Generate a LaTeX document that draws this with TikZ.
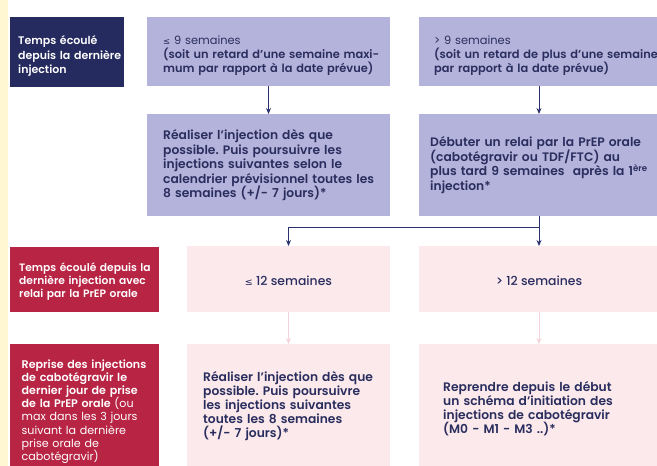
\documentclass[tikz,border=0pt]{standalone}
\usepackage{fontspec}
\setmainfont{Poppins}[BoldFont={Poppins SemiBold}]
\newfontfamily\popmed{Poppins Medium}
\newfontfamily\symf{DejaVu Sans}
\usetikzlibrary{arrows.meta}
\definecolor{navy}{HTML}{252A5F}
\definecolor{ink}{HTML}{2A2E5E}
\definecolor{lilac}{HTML}{B4B3DB}
\definecolor{blush}{HTML}{FBE9EC}
\definecolor{crimson}{HTML}{B82444}
\definecolor{cream}{HTML}{FFF7D2}
\definecolor{arrnavy}{HTML}{2B3170}
\definecolor{arrpink}{HTML}{F5D3DA}
\newcommand\leqsym[1][8.5]{{\symf\fontsize{#1}{10}\selectfont ≤}}
\newcommand\fsz[2]{\fontsize{#1}{#2}\selectfont\lineskiplimit=-100pt\lineskip=0pt\relax}
\tikzset{
  boxbase/.style={anchor=north west, inner sep=0pt, outer sep=0pt},
  navybox/.style={boxbase, fill=navy},
  redbox/.style={boxbase, fill=crimson},
  lilacbox/.style={boxbase, fill=lilac},
  blushbox/.style={boxbase, fill=blush},
  txt/.style={anchor=base west, inner sep=0pt, align=left, text width=260pt,
    text=ink, font=\fsz{12.3}{14.5}\bfseries},
  wtxt/.style={txt, text=white},
  ctxt/.style={anchor=base, inner sep=0pt, text=ink, font=\fsz{12.4}{14}\popmed},
  navyline/.style={draw=arrnavy, line width=0.9pt},
  navyarr/.style={navyline, -{Stealth[length=6pt,width=5pt]}},
  pinkarr/.style={draw=arrpink, line width=0.9pt, -{Stealth[length=6pt,width=5pt]}},
}
\begin{document}
\frenchspacing
\begin{tikzpicture}[x=1pt,y=-1pt]
\useasboundingbox (0,0) rectangle (657,466);
\clip (0,0) rectangle (657,466);
\fill[white] (0,0) rectangle (657,466);
\fill[cream] (0,0) rectangle (8,466);

% boxes
\node[navybox, minimum width=114, minimum height=70] (n1) at (10,17) {};
\node[lilacbox, minimum width=243, minimum height=69] (b1) at (147,17) {};
\node[lilacbox, minimum width=240, minimum height=69] (b2) at (419,17) {};
\node[lilacbox, minimum width=243, minimum height=102] (b3) at (147,114) {};
\node[lilacbox, minimum width=240, minimum height=102] (b4) at (419,114) {};
\node[redbox, minimum width=149, minimum height=65] (r1) at (10,247) {};
\node[blushbox, minimum width=203, minimum height=66] (b5) at (187,246) {};
\node[blushbox, minimum width=240, minimum height=66] (b6) at (419,246) {};
\node[redbox, minimum width=149, minimum height=130] (r2) at (10,344) {};
\node[blushbox, minimum width=203, minimum height=130] (b7) at (187,344) {};
\node[blushbox, minimum width=240, minimum height=130] (b8) at (419,344) {};

% texts
\node[wtxt, font=\fsz{11}{14.5}\bfseries] (tn1) at (18,44.5)
  {Temps écoulé\\depuis la dernière\\injection};
\node[txt, font=\fsz{11.4}{14}\bfseries] (tb1) at (163,44)
  {{\mdseries\leqsym\ 9 semaines}\\(soit un retard d’une semaine maxi-\\mum par rapport à la date prévue)};
\node[txt, font=\fsz{11.4}{14}\bfseries] (tb2) at (434,44)
  {{\mdseries > 9 semaines}\\(soit un retard de plus d’une semaine\\par rapport à la date prévue)};
\node[txt] (tb3) at (163,139.5)
  {Réaliser l’injection dès que\\possible. Puis poursuivre les\\injections suivantes selon le\\calendrier prévisionnel toutes les\\8 semaines (+/- 7 jours)*};
\node[txt] (tb4) at (430,146.5)
  {Débuter un relai par la PrEP orale\\(cabotégravir ou TDF/FTC) au\\plus tard 9 semaines\ \ après la 1\textsuperscript{ère}\\injection*};
\node[wtxt, font=\fsz{10.7}{13}\bfseries] (tr1) at (19,271)
  {Temps écoulé depuis la\\dernière injection avec\\relai par la PrEP orale};
\node[ctxt] (tb5) at (288.5,285.5) {{\leqsym[9.5]}\ 12 semaines};
\node[ctxt] (tb6) at (539,285.5) {> 12 semaines};
\node[wtxt, font=\fsz{11.1}{13.2}\bfseries] (tr2) at (21.5,368)
  {Reprise des injections\\de cabotégravir le\\dernier jour de prise\\de la PrEP orale {\mdseries(ou\\max dans les 3 jours\\suivant la dernière\\prise orale de\\cabotégravir)}};
\node[txt, font=\fsz{12.3}{14.2}\bfseries] (tb7) at (203,381)
  {Réaliser l’injection dès que\\possible. Puis poursuivre\\les injections suivantes\\toutes les 8 semaines\\(+/- 7 jours)*};
\node[txt, font=\fsz{12.3}{14.2}\bfseries] (tb8) at (443,391)
  {Reprendre depuis le début\\un schéma d’initiation des\\injections de cabotégravir\\(M0 - M1 - M3 ..)*};

% connectors
\draw[navyarr] (b1.south) -- (b3.north);
\draw[navyarr] (b2.south) -- (b4.north);
\path (b4.south) ++(0,11) coordinate (j);
\draw[navyline] (b4.south) -- (j);
\draw[navyarr] (j) -- (b6.north);
\draw[navyarr] (j) -| (b5.north);
\draw[pinkarr] (b5.south) -- (b7.north);
\draw[pinkarr] (b6.south) -- (b8.north);
\end{tikzpicture}
\end{document}
